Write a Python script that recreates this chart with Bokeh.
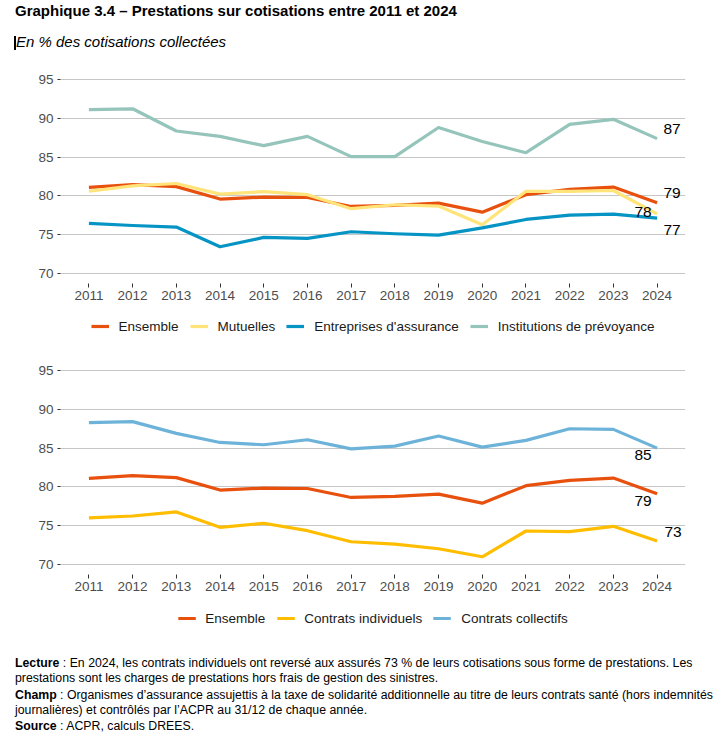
from bokeh.plotting import figure
from bokeh.models import Div, Legend, LegendItem, Range1d, FixedTicker
from bokeh.layouts import column
from bokeh.embed import file_html
from bokeh.resources import INLINE
from bokeh.core.properties import value

# ---------------- data ----------------
years = list(range(2011, 2025))
y_ticks = [70, 75, 80, 85, 90, 95]

ensemble = [81.1, 81.45, 81.2, 79.6, 79.85, 79.8, 78.65, 78.78, 79.08, 77.92, 80.16, 80.84, 81.14, 79.13]
mutuelles = [80.6, 81.3, 81.6, 80.24, 80.55, 80.16, 78.36, 78.87, 78.7, 76.3, 80.6, 80.6, 80.7, 77.7]
entreprises = [76.47, 76.2, 76.0, 73.47, 74.67, 74.54, 75.4, 75.14, 74.97, 75.9, 76.98, 77.54, 77.67, 77.15]
institutions = [91.1, 91.2, 88.35, 87.66, 86.46, 87.66, 85.05, 85.05, 88.8, 87.0, 85.56, 89.2, 89.85, 87.37]

individuels = [76.02, 76.27, 76.79, 74.81, 75.33, 74.38, 72.96, 72.66, 72.06, 71.03, 74.34, 74.25, 74.94, 73.05]
collectifs = [88.26, 88.39, 86.88, 85.72, 85.42, 86.07, 84.9, 85.25, 86.54, 85.12, 85.98, 87.48, 87.4, 84.99]

names_top = ["Ensemble", "Mutuelles", "Entreprises d'assurance", "Institutions de prévoyance"]
names_bottom = ["Ensemble", "Contrats individuels", "Contrats collectifs"]

# ---------------- styles ----------------
C_ENS = "#E8500E"
C_MUT = "#FFE47A"
C_ENT = "#0594C3"
C_INS = "#95C5BA"
C_IND = "#FFBD00"
C_COL = "#6DB3D9"

FONT = "Liberation Sans"
W = 727
LW = 3.2


def make_fig(series, colors, offsets, border_top, border_bottom):
    frame_h = 214
    p = figure(width=W, height=border_top + frame_h + border_bottom,
               x_range=Range1d(2010.35, 2024.65), y_range=Range1d(68.75, 96.25),
               output_backend="svg", toolbar_location=None,
               min_border_left=60, min_border_right=W - 60 - 625,
               min_border_top=border_top, min_border_bottom=border_bottom)
    p.outline_line_color = None
    p.background_fill_color = "white"
    p.border_fill_color = "white"
    p.xgrid.visible = False
    p.ygrid.ticker = FixedTicker(ticks=y_ticks)
    p.ygrid.grid_line_color = "#C6C6C6"
    p.ygrid.grid_line_width = 1.2

    p.xaxis.ticker = FixedTicker(ticks=years)
    p.yaxis.ticker = FixedTicker(ticks=y_ticks)
    for ax in (p.xaxis[0], p.yaxis[0]):
        ax.axis_line_color = None
        ax.major_tick_line_color = "#333333"
        ax.major_tick_line_width = 1
        ax.minor_tick_line_color = None
        ax.major_tick_in = 0
        ax.major_label_text_font = FONT
        ax.major_label_text_font_size = "13.5px"
        ax.major_label_text_color = "#4D4D4D"
    p.xaxis.major_tick_out = 4
    p.xaxis.major_label_standoff = 3
    p.yaxis.major_tick_out = 3
    p.yaxis.major_label_standoff = 4

    for vals, col in zip(series, colors):
        p.line(years, vals, line_color=col, line_width=LW, line_join="round")

    for vals, (dx, dy) in zip(series, offsets):
        p.text(x=[years[-1]], y=[vals[-1]], text=[f"{vals[-1]:.0f}"],
               x_offset=dx, y_offset=dy, text_align="center", text_baseline="middle",
               text_font=value(FONT), text_font_size="15.5px", text_color="#000000")
    return p


def make_legend(series, colors, names, height):
    # legend strip: the series are drawn outside the visible range, only the keys show
    lf = figure(width=W, height=height, x_range=Range1d(0, 1), y_range=Range1d(0, 1),
                output_backend="svg", toolbar_location=None,
                min_border_left=20, min_border_right=0, min_border_top=0, min_border_bottom=0)
    lf.axis.visible = False
    lf.grid.visible = False
    lf.outline_line_color = None
    lf.border_fill_color = "white"
    items = []
    for vals, col, name in zip(series, colors, names):
        r = lf.line(years, vals, line_color=col, line_width=LW)
        items.append(LegendItem(label=name, renderers=[r]))
    leg = Legend(items=items, orientation="horizontal", location="center",
                 glyph_width=18, glyph_height=16, label_height=16,
                 label_standoff=10, spacing=11, padding=0, margin=0,
                 border_line_color=None, background_fill_alpha=0,
                 label_text_font=FONT, label_text_font_size="13.5px",
                 label_text_color="#1A1A1A")
    lf.add_layout(leg, "center")
    return lf


top_series = [ensemble, mutuelles, entreprises, institutions]
top_colors = [C_ENS, C_MUT, C_ENT, C_INS]
bot_series = [ensemble, individuels, collectifs]
bot_colors = [C_ENS, C_IND, C_COL]

p1 = make_fig(top_series, top_colors,
              [(15, -10), (-14, -2), (15, 12), (15, -10)],
              border_top=14, border_bottom=28)
l1 = make_legend(top_series, top_colors, names_top, 30)

p2 = make_fig(bot_series, bot_colors,
              [(-14, 7), (16, -9), (-14, 7)],
              border_top=19, border_bottom=28)
l2 = make_legend(bot_series, bot_colors, names_bottom, 32)

header = Div(text=(
    '<div style="position:relative;width:727px;height:55px;font-family:\'Liberation Sans\';color:#000;">'
    '<div style="position:absolute;left:15px;top:2px;font-weight:bold;font-size:15px;line-height:17px;white-space:nowrap;">'
    'Graphique 3.4 – Prestations sur cotisations entre 2011 et 2024</div>'
    '<div style="position:absolute;left:14px;top:36px;width:2px;height:14px;background:#000;"></div>'
    '<div style="position:absolute;left:16px;top:33px;font-style:italic;font-size:15px;line-height:17px;white-space:nowrap;">'
    'En % des cotisations collectées</div>'
    '</div>'), width=W, height=55, margin=(0, 0, 0, 0))

notes = Div(text=(
    '<div style="position:relative;width:727px;font-family:\'Liberation Sans\';font-size:12.3px;line-height:15px;color:#000;padding-top:22px;padding-left:15px;white-space:nowrap;">'
    '<div style="margin-bottom:2px;"><b>Lecture</b> : En 2024, les contrats individuels ont reversé aux assurés 73 % de leurs cotisations sous forme de prestations. Les<br>'
    'prestations sont les charges de prestations hors frais de gestion des sinistres.</div>'
    '<div style="margin-bottom:1px;"><b>Champ</b> : Organismes d’assurance assujettis à la taxe de solidarité additionnelle au titre de leurs contrats santé (hors indemnités<br>'
    'journalières) et contrôlés par l’ACPR au 31/12 de chaque année.</div>'
    '<div><b>Source</b> : ACPR, calculs DREES.</div>'
    '</div>'), width=W, height=105, margin=(0, 0, 0, 0))

layout = column(header, p1, l1, p2, l2, notes, spacing=0)

open("out.html", "w").write(file_html(layout, INLINE))
